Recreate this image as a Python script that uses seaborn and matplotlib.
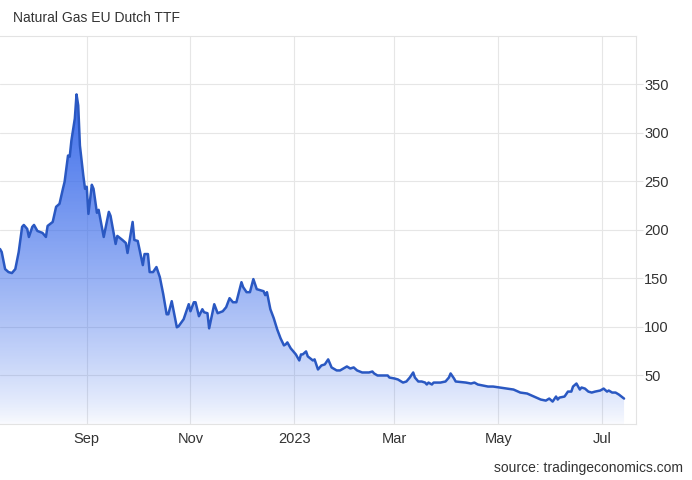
import numpy as np
import pandas as pd
import matplotlib
matplotlib.use("Agg")
import matplotlib.pyplot as plt
import matplotlib.dates as mdates
from matplotlib import font_manager
import seaborn as sns

# ---------------- data ----------------
start_date = "2022-07-12"
day_offsets = [
    0, 1, 3, 5, 7, 9, 11, 13, 14, 16, 17, 19, 20, 22, 25, 27, 28, 31, 33, 35,
    37, 38, 40, 41, 42, 44, 45, 46, 47, 49, 50, 51, 52, 54, 55, 57, 58, 61, 64, 65,
    68, 69, 72, 74, 75, 78, 79, 81, 84, 85, 87, 88, 90, 92, 94, 96, 98, 99, 101, 104,
    105, 108, 111, 112, 114, 115, 117, 119, 120, 122, 123, 126, 128, 131, 133, 135, 137, 139, 142, 143,
    145, 147, 149, 151, 153, 155, 156, 157, 159, 161, 163, 165, 167, 168, 169, 171, 172, 174, 176, 177,
    178, 180, 181, 184, 185, 187, 189, 191, 193, 195, 198, 200, 202, 204, 206, 208, 210, 213, 217, 219,
    220, 222, 228, 229, 232, 234, 237, 239, 241, 243, 244, 246, 248, 250, 251, 252, 254, 255, 259, 262,
    264, 265, 267, 268, 274, 277, 279, 281, 284, 287, 290, 294, 298, 302, 306, 310, 314, 318, 321, 323,
    325, 327, 328, 329, 332, 334, 336, 337, 339, 341, 342, 344, 346, 348, 350, 353, 355, 357, 358, 360,
    362, 364, 367,
]
prices = [
    180.4, 177.3, 159.7, 156.6, 155.6, 159.7, 177.3, 203.2, 205.2, 201.1, 192.8, 203.2, 205.2, 199.0, 197.0, 192.8, 204.2, 208.3, 223.9, 227.0,
    242.5, 249.7, 276.7, 275.6, 292.2, 314.9, 339.8, 328.4, 287.0, 256.0, 242.5, 244.6, 216.6, 246.6, 242.5, 217.7, 220.8, 192.8, 218.7, 214.6,
    185.6, 193.9, 189.7, 186.6, 176.3, 208.3, 189.7, 188.7, 163.8, 175.2, 175.2, 156.6, 156.6, 161.8, 151.4, 133.8, 113.1, 113.1, 126.6, 99.7,
    100.7, 108.0, 123.5, 116.2, 125.5, 125.5, 111.1, 118.3, 115.2, 114.2, 98.6, 123.5, 114.2, 116.2, 120.4, 129.7, 125.5, 125.5, 146.2, 141.1,
    135.9, 135.9, 149.4, 139.0, 138.0, 136.9, 132.8, 135.9, 118.3, 109.0, 97.6, 88.3, 81.0, 82.1, 84.1, 77.9, 75.9, 71.7, 65.5, 71.7,
    71.7, 74.8, 69.7, 65.5, 66.6, 56.2, 60.3, 61.4, 66.6, 58.3, 55.2, 55.2, 57.2, 59.3, 57.2, 58.3, 55.2, 53.1, 53.1, 54.1,
    52.1, 50.0, 50.0, 47.9, 46.9, 45.9, 42.7, 43.8, 47.9, 53.1, 47.9, 43.8, 43.8, 42.7, 40.7, 42.7, 40.7, 42.7, 42.7, 43.8,
    47.9, 52.1, 46.9, 43.8, 42.7, 41.7, 42.7, 40.7, 39.6, 38.6, 38.6, 37.6, 36.5, 35.5, 32.4, 31.4, 28.3, 25.2, 24.1, 26.2,
    23.1, 28.3, 25.2, 27.2, 28.3, 33.4, 33.4, 38.6, 41.7, 35.5, 37.6, 36.5, 33.4, 32.4, 33.4, 34.5, 36.5, 33.4, 34.5, 32.4,
    32.4, 30.3, 26.2,
]
y_ticks = [50, 100, 150, 200, 250, 300, 350]
month_ticks = ["2022-09-01", "2022-11-01", "2023-01-01", "2023-03-01", "2023-05-01", "2023-07-01"]
month_labels = ["Sep", "Nov", "2023", "Mar", "May", "Jul"]
title_text = "Natural Gas EU Dutch TTF"
source_text = "source: tradingeconomics.com"

# ---------------- style ----------------
sns.set_theme(style="white")
plt.rcParams["font.family"] = ["Liberation Sans", "DejaVu Sans"]


def has_font(name):
    try:
        font_manager.findfont(font_manager.FontProperties(family=name), fallback_to_default=False)
        return True
    except Exception:
        return False


narrow = ["Liberation Sans Narrow", "Liberation Sans", "DejaVu Sans"] if has_font("Liberation Sans Narrow") \
    else ["Liberation Sans", "DejaVu Sans"]

df = pd.DataFrame({
    "date": pd.to_datetime(start_date) + pd.to_timedelta(day_offsets, unit="D"),
    "price": prices,
})

fig = plt.figure(figsize=(6.92, 4.80), dpi=100)
ax = fig.add_axes([0.0, 0.1167, 0.919, 0.8083])
ax.set_facecolor("white")

line_color = "#2a58c2"
sns.lineplot(data=df, x="date", y="price", ax=ax, color=line_color, lw=1.8, zorder=4)

# gradient fill under the line
poly = ax.fill_between(df["date"], df["price"], 0, color="none", lw=0, zorder=2)
xnum = mdates.date2num(df["date"])
t = np.linspace(1.0, 0.0, 256)
grad = np.zeros((256, 1, 4))
grad[:, 0, 0] = 0.23
grad[:, 0, 1] = 0.42
grad[:, 0, 2] = 0.92
grad[:, 0, 3] = 0.03 + 0.95 * t ** 0.8
im = ax.imshow(grad, extent=[xnum.min(), xnum.max(), 0, max(prices)], aspect="auto",
               origin="upper", zorder=2, interpolation="bilinear")
im.set_clip_path(poly.get_paths()[0], transform=ax.transData)

# axes limits
ax.set_xlim(pd.Timestamp(start_date), pd.Timestamp("2023-07-21"))
ax.set_ylim(0, 400)

# ticks
ax.set_xticks(pd.to_datetime(month_ticks))
ax.set_xticklabels(month_labels, fontfamily=narrow, fontsize=10.5, color="#333333")
ax.yaxis.tick_right()
ax.set_yticks(y_ticks)
ax.set_yticklabels([str(v) for v in y_ticks], fontsize=10.5, color="#333333")
ax.tick_params(axis="x", length=0, pad=6)
ax.tick_params(axis="y", length=5, color="#e3e3e3", width=0.8, pad=1, right=True, left=False)
ax.set_xlabel("")
ax.set_ylabel("")

# grid and frame
ax.grid(True, color="#e6e6e6", lw=0.8, zorder=0)
ax.set_axisbelow(True)
ax.spines["left"].set_visible(False)
for side in ["top", "bottom", "right"]:
    ax.spines[side].set_color("#e3e3e3")
    ax.spines[side].set_linewidth(0.8)

# texts
fig.text(13 / 692, 1 - 18 / 480, title_text, ha="left", va="center", fontsize=10, color="#333333")
fig.text(683 / 692, 1 - 468 / 480, source_text, ha="right", va="center", fontsize=10, color="#333333")

fig.savefig("out.png", dpi=100)
